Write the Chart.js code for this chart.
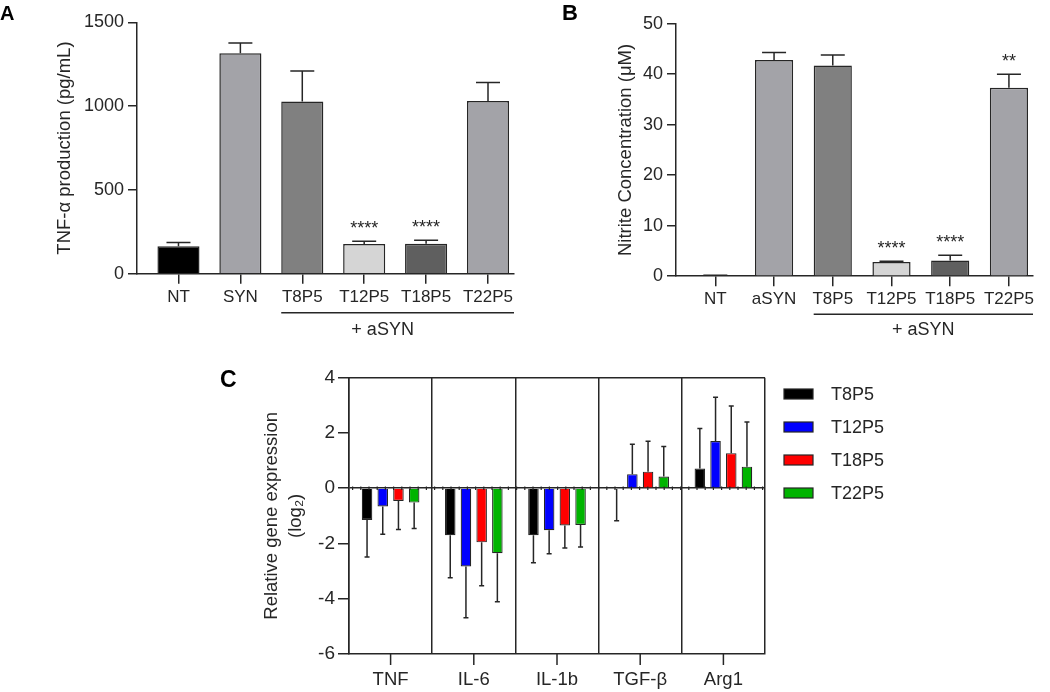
<!DOCTYPE html>
<html lang="en">
<head>
<meta charset="UTF-8">
<title>TNF-α, nitrite and gene expression</title>
<script src="https://cdn.jsdelivr.net/npm/chart.js"></script>
<style>
  body { margin: 0; background: #fff; }
  #wrap { position: relative; width: 1050px; height: 692px; overflow: hidden; }
  canvas { position: absolute; }
</style>
</head>
<body>
<div id="wrap">
  <canvas id="chartA" width="520" height="345" style="left:0;top:0"></canvas>
  <canvas id="chartB" width="530" height="345" style="left:520px;top:0"></canvas>
  <canvas id="chartC" width="1050" height="362" style="left:0;top:330px"></canvas>
</div>
<script>
  // panel A - TNF-α
  const groupsA = ['NT', 'SYN', 'T8P5', 'T12P5', 'T18P5', 'T22P5'];
  const tnfMean = [165, 1316, 1028, 177, 179, 1030];
  const tnfSd = [22, 61, 182, 17, 21, 111];
  const tnfStars = ['', '', '', '****', '****', ''];

  // panel B - nitrite
  const groupsB = ['NT', 'aSYN', 'T8P5', 'T12P5', 'T18P5', 'T22P5'];
  const nitriteMean = [0.15, 42.8, 41.7, 2.8, 3.1, 37.3];
  const nitriteSd = [0.05, 1.5, 2.1, 0.15, 1.05, 2.7];
  const nitriteStars = ['', '', '', '****', '****', '**'];

  // panel C - relative gene expression (log2)
  const genes = ['TNF', 'IL-6', 'IL-1b', 'TGF-β', 'Arg1'];
  const peptides = ['T8P5', 'T12P5', 'T18P5', 'T22P5'];
  const t8p5Expr = [-1.15, -1.70, -1.70, -0.03, 0.71];
  const t8p5Sd = [1.34, 1.54, 1.00, 1.15, 1.45];
  const t12p5Expr = [-0.66, -2.83, -1.52, 0.51, 1.71];
  const t12p5Sd = [1.01, 1.86, 0.85, 1.08, 1.58];
  const t18p5Expr = [-0.46, -1.96, -1.35, 0.60, 1.27];
  const t18p5Sd = [1.03, 1.57, 0.81, 1.10, 1.71];
  const t22p5Expr = [-0.52, -2.35, -1.33, 0.42, 0.78];
  const t22p5Sd = [0.94, 1.76, 0.80, 1.09, 1.62];

  const FONT = "'Liberation Sans', Arial, Helvetica, sans-serif";
  const INK = '#262626';
  const shades = ['#000000', '#a3a3a8', '#808080', '#d5d5d5', '#5f5f5f', '#a3a3a8'];
  const peptideColors = ['#000000', '#0000ff', '#ff0000', '#00b400'];

  Chart.defaults.font.family = FONT;
  Chart.defaults.color = INK;

  // error bars, stars, brackets, frame, legend and panel letters
  const decor = {
    id: 'decor',
    afterDraw(chart, args, o) {
      const ctx = chart.ctx;
      const area = chart.chartArea;
      const xs = chart.scales.x;
      const ys = chart.scales.y;
      ctx.save();
      ctx.strokeStyle = INK;
      ctx.fillStyle = INK;
      ctx.lineWidth = 1.5;

      if (o.zeroDots) {
        const y0 = ys.getPixelForValue(0);
        ctx.save();
        ctx.lineWidth = 3.5;
        ctx.setLineDash([1.2, 7]);
        ctx.beginPath();
        ctx.moveTo(area.left + 3, y0);
        ctx.lineTo(area.right, y0);
        ctx.stroke();
        ctx.restore();
      }

      chart.data.datasets.forEach((ds, di) => {
        const meta = chart.getDatasetMeta(di);
        meta.data.forEach((bar, j) => {
          const raw = ds.data[j];
          const v = typeof raw === 'object' ? raw.y : raw;
          const dir = v < 0 ? -1 : 1;
          const tip = ys.getPixelForValue(v + dir * ds.sd[j]);
          ctx.beginPath();
          ctx.moveTo(bar.x, bar.y);
          ctx.lineTo(bar.x, tip);
          ctx.moveTo(bar.x - o.cap, tip);
          ctx.lineTo(bar.x + o.cap, tip);
          ctx.stroke();
          if (ds.stars && ds.stars[j]) {
            ctx.font = '18px ' + FONT;
            ctx.textAlign = 'center';
            ctx.textBaseline = 'alphabetic';
            ctx.fillText(ds.stars[j], bar.x, tip - o.starGap);
          }
        });
      });

      if (o.bracket) {
        const b = o.bracket;
        const first = chart.getDatasetMeta(0).data[b.from];
        const x0 = first.x - first.width / 2;
        const x1 = area.right;
        const yy = area.bottom + b.dy;
        ctx.beginPath();
        ctx.moveTo(x0, yy);
        ctx.lineTo(x1, yy);
        ctx.stroke();
        ctx.font = '18px ' + FONT;
        ctx.textAlign = 'center';
        ctx.textBaseline = 'middle';
        ctx.fillText(b.text, (x0 + x1) / 2 + b.shift, yy + b.textDy);
      }

      if (o.frame) {
        ctx.beginPath();
        ctx.moveTo(area.left, area.top);
        ctx.lineTo(area.right, area.top);
        ctx.stroke();
        xs.ticks.forEach((t, i) => {
          const px = xs.getPixelForTick(i);
          ctx.beginPath();
          ctx.moveTo(px, area.bottom);
          ctx.lineTo(px, area.bottom + 11);
          ctx.stroke();
        });
      }

      if (o.legend) {
        const L = o.legend;
        ctx.font = '18px ' + FONT;
        ctx.textAlign = 'left';
        ctx.textBaseline = 'middle';
        chart.data.datasets.forEach((ds, i) => {
          const cy = area.top + L.dy + i * L.step;
          const lx = area.right + L.dx;
          ctx.fillStyle = ds.backgroundColor;
          ctx.fillRect(lx, cy - L.h / 2, L.w, L.h);
          ctx.lineWidth = 1.2;
          ctx.strokeStyle = INK;
          ctx.strokeRect(lx, cy - L.h / 2, L.w, L.h);
          ctx.fillStyle = INK;
          ctx.fillText(ds.label, area.right + L.dxText, cy + 1);
        });
      }

      if (o.letter) {
        ctx.font = 'bold ' + o.letter.size + 'px ' + FONT;
        ctx.textAlign = 'left';
        ctx.textBaseline = 'alphabetic';
        ctx.fillStyle = '#000';
        ctx.fillText(o.letter.text, o.letter.x, o.letter.y);
      }
      ctx.restore();
    }
  };

  function singleBarChart(id, groups, means, sds, stars, cfg) {
    return new Chart(document.getElementById(id), {
      type: 'bar',
      data: {
        datasets: [{
          data: means.map((v, i) => ({ x: i, y: v })),
          sd: sds,
          stars: stars,
          backgroundColor: shades,
          borderColor: INK,
          borderWidth: 1.5,
          barPercentage: cfg.barPct,
          categoryPercentage: 1
        }]
      },
      options: {
        responsive: false,
        animation: false,
        devicePixelRatio: 1,
        layout: { padding: cfg.padding },
        plugins: {
          legend: { display: false },
          tooltip: { enabled: false },
          decor: {
            cap: 12,
            starGap: 7,
            letter: cfg.letter,
            bracket: cfg.bracket
          }
        },
        scales: {
          x: {
            type: 'linear',
            min: cfg.xMin,
            max: cfg.xMax,
            offset: false,
            ticks: {
              stepSize: 1,
              includeBounds: false,
              autoSkip: false,
              maxRotation: 0,
              padding: 3,
              font: { size: 17 },
              callback: v => groups[v]
            },
            grid: { offset: false, drawOnChartArea: false, tickLength: 10, color: INK, lineWidth: 1.5 },
            border: { color: INK, width: 1.5 },
            afterFit: s => { s.height = cfg.xHeight; s.paddingLeft = 0; s.paddingRight = 0; }
          },
          y: {
            min: 0,
            max: cfg.yMax,
            ticks: {
              stepSize: cfg.yStep,
              padding: 4,
              font: { size: 18 },
              callback: v => String(v)
            },
            grid: { drawOnChartArea: false, tickLength: 9, color: INK, lineWidth: 1.5 },
            border: { color: INK, width: 1.5 },
            title: {
              display: true,
              text: cfg.yTitle,
              font: { size: 18.5 },
              padding: { top: cfg.titlePad, bottom: 0 }
            },
            afterFit: s => { s.width = cfg.yWidth; s.paddingTop = 0; s.paddingBottom = 0; }
          }
        }
      },
      plugins: [decor]
    });
  }

  singleBarChart('chartA', groupsA, tnfMean, tnfSd, tnfStars, {
    padding: { top: 22.3, right: 6, left: 0, bottom: 0 },
    xMin: -0.67, xMax: 5.42, xHeight: 71.2, yWidth: 137,
    yMax: 1500, yStep: 500, barPct: 0.68,
    yTitle: 'TNF-α production (pg/mL)', titlePad: 53.4,
    letter: { text: 'A', x: 0, y: 20, size: 20 },
    bracket: { from: 2, dy: 39, textDy: 17, text: '+ aSYN', shift: -15 }
  });

  singleBarChart('chartB', groupsB, nitriteMean, nitriteSd, nitriteStars, {
    padding: { top: 23.7, right: 17, left: 0, bottom: 0 },
    xMin: -0.67, xMax: 5.41, xHeight: 68.8, yWidth: 156,
    yMax: 50, yStep: 10, barPct: 0.65,
    yTitle: 'Nitrite Concentration (μM)', titlePad: 94.4,
    letter: { text: 'B', x: 42, y: 19.6, size: 22 },
    bracket: { from: 2, dy: 38, textDy: 16, text: '+ aSYN', shift: 0 }
  });

  const exprSeries = [t8p5Expr, t12p5Expr, t18p5Expr, t22p5Expr];
  const sdSeries = [t8p5Sd, t12p5Sd, t18p5Sd, t22p5Sd];

  new Chart(document.getElementById('chartC'), {
    type: 'bar',
    data: {
      labels: genes,
      datasets: peptides.map((p, i) => ({
        label: p,
        data: exprSeries[i],
        sd: sdSeries[i],
        backgroundColor: peptideColors[i],
        borderColor: INK,
        borderWidth: 1.2,
        barPercentage: 0.67,
        categoryPercentage: 0.755
      }))
    },
    options: {
      responsive: false,
      animation: false,
      devicePixelRatio: 1,
      layout: { padding: { top: 47.7, right: 285, left: 0, bottom: 0 } },
      plugins: {
        legend: { display: false },
        tooltip: { enabled: false },
        decor: {
          cap: 2.5,
          starGap: 7,
          frame: true,
          zeroDots: true,
          letter: { text: 'C', x: 220, y: 57, size: 23 },
          legend: { dx: 19, dxText: 66, dy: 16.3, step: 33, w: 29, h: 10 }
        }
      },
      scales: {
        x: {
          ticks: { padding: 15, font: { size: 18.5 }, maxRotation: 0, autoSkip: false },
          grid: { offset: true, drawOnChartArea: true, drawTicks: false, color: INK, lineWidth: 1.5 },
          border: { color: INK, width: 1.5 },
          afterFit: s => { s.height = 38; s.paddingLeft = 0; s.paddingRight = 0; }
        },
        y: {
          min: -6,
          max: 4,
          ticks: { stepSize: 2, padding: 3, font: { size: 19 } },
          grid: {
            drawOnChartArea: true,
            tickLength: 11,
            lineWidth: 1.5,
            tickColor: INK,
            color: c => (c.tick && c.tick.value === 0 ? INK : 'rgba(0,0,0,0)')
          },
          border: { color: INK, width: 1.5 },
          title: {
            display: true,
            text: ['Relative gene expression', '(log₂)'],
            font: { size: 18.5, lineHeight: 1.3 },
            padding: { top: 260, bottom: 0 }
          },
          afterFit: s => { s.width = 349; s.paddingTop = 0; s.paddingBottom = 0; }
        }
      }
    },
    plugins: [decor]
  });
</script>
</body>
</html>
